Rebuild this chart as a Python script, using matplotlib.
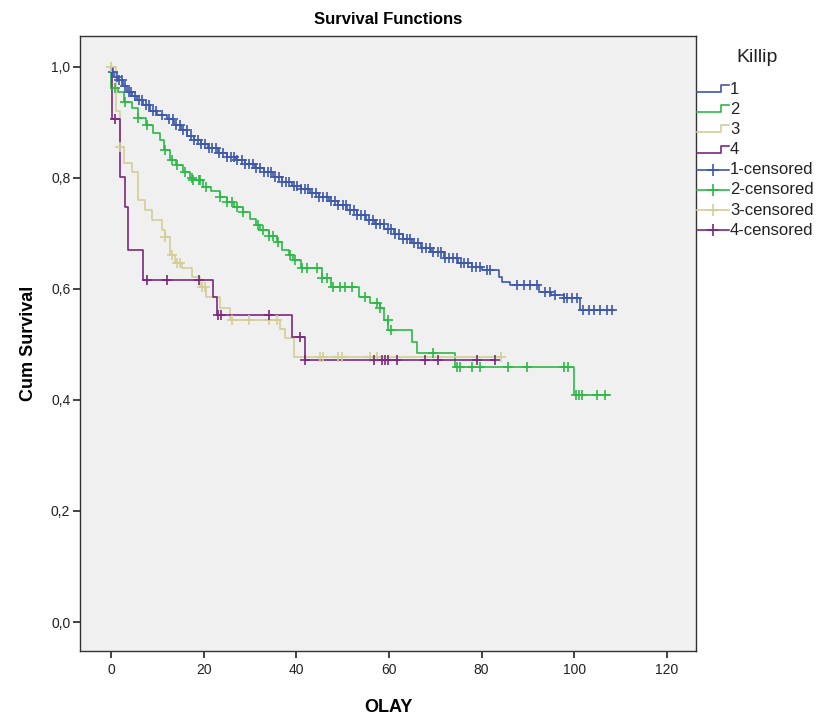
import matplotlib
matplotlib.use('Agg')
import matplotlib.pyplot as plt
import numpy as np
from matplotlib.lines import Line2D
from matplotlib.ticker import FuncFormatter

plt.rcParams['font.family'] = ['Liberation Sans', 'DejaVu Sans']

# Killip groups: step times / survival after each step, end of follow-up, censored times
groups = ['1', '2', '3', '4']
colors = ['#3E58AC', '#2EB848', '#D3CE97', '#7C287D']

t1 = [0, 0.3, 0.8, 1.5, 2.5, 3.5, 4.5, 5.5, 7, 8.5, 10, 12, 13.5, 15, 16.5, 18, 19.5, 21,
      23, 25, 27, 29, 31, 33, 35, 37, 39, 41, 43, 45, 47, 49, 51, 53, 55, 57, 59, 61, 63,
      65, 67, 69, 71.8, 75, 78, 80, 83.8, 84.4, 86.2, 92.5, 95, 97.7, 101.3]
s1 = [1.0, 0.99, 0.982, 0.975, 0.965, 0.955, 0.947, 0.94, 0.93, 0.92, 0.912, 0.905, 0.895,
      0.885, 0.875, 0.868, 0.86, 0.853, 0.845, 0.838, 0.831, 0.824, 0.817, 0.81, 0.802,
      0.793, 0.785, 0.779, 0.772, 0.765, 0.758, 0.751, 0.742, 0.733, 0.724, 0.716, 0.708,
      0.699, 0.69, 0.682, 0.674, 0.667, 0.655, 0.647, 0.64, 0.634, 0.622, 0.613, 0.607,
      0.595, 0.589, 0.583, 0.562]
end1 = 108.5
c1 = [0.5, 1.2, 1.8, 2.3, 3.1, 3.8, 4.4, 5.2, 6.0, 6.7, 7.5, 8.3, 9.0, 9.8, 11.0, 12.5,
      13.3, 14.1, 14.8, 15.6, 16.4, 17.2, 18.0, 18.7, 19.5, 20.3, 21.1, 21.9, 22.6, 23.4,
      24.2, 25.0, 25.8, 26.5, 27.3, 28.2, 29.0, 29.8, 30.6, 31.4, 32.1, 33.0, 33.8, 34.6,
      35.3, 36.2, 37.0, 37.8, 38.5, 39.4, 40.2, 41.0, 41.8, 42.5, 43.4, 44.2, 45.0, 45.8,
      46.6, 47.5, 48.3, 49.1, 50.0, 50.8, 51.6, 52.4, 53.2, 54.0, 54.8, 55.7, 56.5, 57.3,
      58.0, 58.9, 59.7, 60.5, 61.4, 62.2, 63.0, 63.8, 64.6, 65.5, 66.3, 67.1, 68.0, 68.8,
      69.6, 70.5, 71.3, 72.1, 73.0, 73.8, 74.6, 75.5, 76.3, 77.1, 78.0, 78.8, 79.6, 81.1,
      81.8, 87.6, 89.1, 90.5, 91.9, 93.7, 94.8, 95.9, 97.7, 98.4, 99.5, 100.6, 102.0,
      103.1, 104.2, 105.6, 107.0, 108.1]

t2 = [0, 0.1, 1.5, 2.7, 4.5, 5.9, 7.5, 9, 10.6, 11.5, 12.7, 14, 15.5, 17, 17.8, 19.9, 21.5,
      23.5, 25, 26.5, 28.5, 30, 31.2, 32.2, 34, 35.8, 37, 38.5, 39.3, 41, 45.5, 47.5, 53.5,
      56, 58, 59, 59.9, 65, 66, 74.3, 99.9]
s2 = [1.0, 0.962, 0.955, 0.937, 0.925, 0.907, 0.895, 0.88, 0.868, 0.85, 0.832, 0.822, 0.81,
      0.8, 0.796, 0.784, 0.776, 0.766, 0.757, 0.748, 0.739, 0.725, 0.715, 0.706, 0.695,
      0.685, 0.67, 0.66, 0.652, 0.637, 0.62, 0.604, 0.586, 0.575, 0.565, 0.544, 0.526,
      0.505, 0.484, 0.46, 0.409]
end2 = 107.8
c2 = [0.9, 3.0, 5.9, 7.7, 11.7, 13.1, 14.2, 16.0, 17.4, 17.8, 18.9, 19.2, 20.5, 23.5, 25.0,
      26.1, 27.1, 28.5, 31.8, 32.9, 34.0, 35.0, 36.1, 38.7, 39.7, 41.2, 42.3, 44.4, 45.5,
      46.6, 48.0, 49.5, 50.5, 52.0, 54.9, 57.4, 58.1, 59.7, 60.4, 69.6, 74.7, 75.4, 77.9,
      79.6, 85.8, 89.8, 97.7, 98.6, 100.3, 101.0, 101.7, 104.9, 106.7]

t3 = [0, 1.0, 1.9, 2.7, 4.5, 5.9, 7.3, 8.8, 10.9, 11.7, 12.7, 13.8, 15.3, 17.4, 19.3, 20.5,
      23.5, 25.7, 36.5, 37.5, 39.5]
s3 = [1.0, 0.92, 0.856, 0.827, 0.81, 0.76, 0.742, 0.724, 0.706, 0.694, 0.661, 0.646, 0.637,
      0.622, 0.604, 0.586, 0.565, 0.544, 0.527, 0.511, 0.478]
end3 = 84.3
c3 = [0.0, 1.9, 11.7, 13.1, 14.2, 14.9, 19.6, 20.3, 26.1, 29.7, 34.0, 35.8, 45.1, 45.8,
      49.0, 49.9, 55.9, 57.4, 84.3]

t4 = [0, 0.3, 1.9, 3.0, 3.7, 7.0, 22.1, 22.8, 39.0, 41.9]
s4 = [1.0, 0.905, 0.802, 0.748, 0.670, 0.616, 0.586, 0.553, 0.514, 0.472]
end4 = 83.0
c4 = [0.9, 7.7, 12.0, 18.9, 23.2, 23.8, 34.0, 40.8, 41.9, 56.7, 58.5, 59.2, 59.9, 61.7,
      67.8, 70.7, 79.0, 83.0]

times = [t1, t2, t3, t4]
survs = [s1, s2, s3, s4]
ends = [end1, end2, end3, end4]
censored = [c1, c2, c3, c4]

W, H = 820, 722


def fx(px):
    return px / W


def fy(py):
    return 1 - py / H


fig = plt.figure(figsize=(W / 100, H / 100), dpi=100)
ax = fig.add_axes([fx(80), fy(651), 616 / W, 615 / H])
ax.set_facecolor('#F0F0F0')

for t, s, e, c, col in zip(times, survs, ends, censored, colors):
    tt = np.array(t + [e])
    ss = np.array(s + [s[-1]])
    ax.step(tt, ss, where='post', color=col, lw=1.2, zorder=3)
    ct = np.array(c)
    idx = np.searchsorted(np.array(t), ct, side='right') - 1
    cs = np.array(s)[idx]
    ax.plot(ct, cs, ls='none', marker='+', ms=7.5, mew=1.2, color=col, zorder=4)

ax.set_xlim(-6.7, 126.3)
ax.set_ylim(-0.052, 1.055)
ax.set_xticks(np.arange(0, 121, 20))
ax.set_yticks(np.arange(0, 1.01, 0.2))
ax.yaxis.set_major_formatter(FuncFormatter(lambda v, p: ('%.1f' % v).replace('.', ',')))
ax.tick_params(direction='out', length=5, width=1.2, labelsize=10, colors='#222222')
ax.tick_params(axis='y', pad=2)
for sp in ax.spines.values():
    sp.set_color('#333333')
    sp.set_linewidth(1.0)

ax.set_title('Survival Functions', fontsize=12, fontweight='bold', pad=9)
ax.set_xlabel('OLAY', fontsize=13, fontweight='bold', labelpad=16)
ax.set_ylabel('Cum Survival', fontsize=13, fontweight='bold', labelpad=10)

# legend drawn by hand so the rows sit where the reference has them
fig.text(fx(757), fy(57), 'Killip', fontsize=14, ha='center', va='center', color='#222222')
labels = groups + [g + '-censored' for g in groups]
row0, drow = 89, 20.2
for i, lab in enumerate(labels):
    yc = row0 + drow * i
    col = colors[i % 4]
    if i < 4:
        xs = [fx(697), fx(721), fx(721), fx(729)]
        ys = [fy(yc + 3), fy(yc + 3), fy(yc - 4), fy(yc - 4)]
        fig.add_artist(Line2D(xs, ys, color=col, lw=1.2, transform=fig.transFigure))
    else:
        fig.add_artist(Line2D([fx(697), fx(729)], [fy(yc), fy(yc)], color=col, lw=1.2,
                              transform=fig.transFigure))
        fig.add_artist(Line2D([fx(713)], [fy(yc)], color=col, lw=0, marker='+', ms=9,
                              mew=1.2, transform=fig.transFigure))
    fig.text(fx(730), fy(yc), lab, fontsize=12, ha='left', va='center', color='#222222')

fig.savefig('out.png', dpi=100)
